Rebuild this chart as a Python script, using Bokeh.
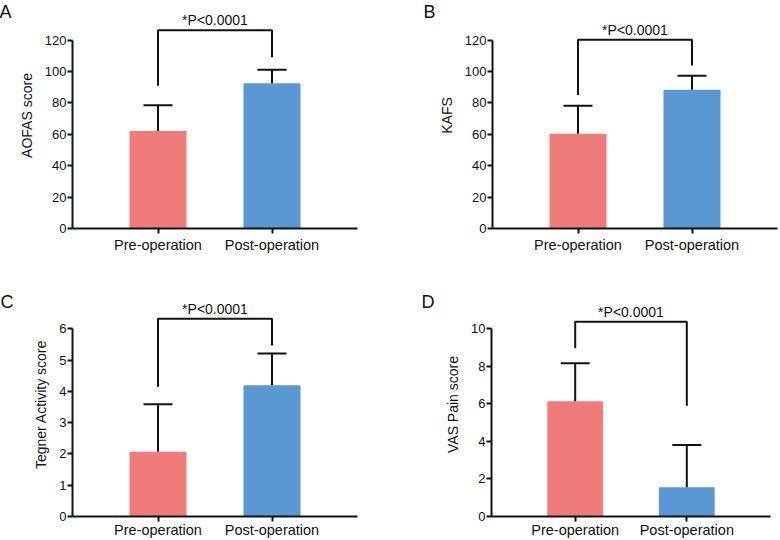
from bokeh.plotting import figure
from bokeh.layouts import column, row
from bokeh.models import ColumnDataSource, Whisker, TeeHead, Range1d
from bokeh.embed import file_html
from bokeh.resources import INLINE
from bokeh.core.properties import value

# ---------------- data ----------------
groups = ["Pre-operation", "Post-operation"]
p_text = "*P<0.0001"
panel_letters = ["A", "B", "C", "D"]
y_labels = ["AOFAS score", "KAFS", "Tegner Activity score", "VAS Pain score"]

y_ticks_A = [0, 20, 40, 60, 80, 100, 120]
y_ticks_B = [0, 20, 40, 60, 80, 100, 120]
y_ticks_C = [0, 1, 2, 3, 4, 5, 6]
y_ticks_D = [0, 2, 4, 6, 8, 10]

means_A = [62.0, 92.5]
sd_A = [16.5, 8.5]
means_B = [60.3, 88.3]
sd_B = [17.8, 9.0]
means_C = [2.07, 4.2]
sd_C = [1.52, 1.01]
means_D = [6.14, 1.56]
sd_D = [2.02, 2.25]

# significance bracket: [left leg bottom, top, right leg bottom]
bracket_A = [90.8, 126.2, 109.0]
bracket_B = [85.0, 120.2, 103.7]
bracket_C = [4.15, 6.32, 5.47]
bracket_D = [8.96, 10.38, 5.9]

# ---------------- style ----------------
FONT = "Liberation Sans"
BAR_COLORS = ["#EF7B7B", "#5B97D2"]
INK = "#111111"
AXIS_PX = 188.5  # pixel length of the drawn y-axis

layouts = [
    dict(w=390, h=270, l=72, r=33, t=2, b=42, lab_off=3, letter_off=-73),
    dict(w=390, h=270, l=102, r=3, t=2, b=42, lab_off=3, letter_off=-69),
    dict(w=390, h=270, l=72, r=33, t=22, b=23, lab_off=0, letter_off=-72),
    dict(w=390, h=270, l=101, r=10, t=22, b=23, lab_off=0, letter_off=-70),
]

panels = [
    (y_ticks_A, means_A, sd_A, bracket_A),
    (y_ticks_B, means_B, sd_B, bracket_B),
    (y_ticks_C, means_C, sd_C, bracket_C),
    (y_ticks_D, means_D, sd_D, bracket_D),
]


def make_panel(i):
    ticks, means, sds, bracket = panels[i]
    lay = layouts[i]
    frame_h = lay["h"] - lay["t"] - lay["b"]
    y_max = ticks[-1]
    y_end = y_max * frame_h / AXIS_PX
    xs = [k + 1 for k in range(len(groups))]

    p = figure(width=lay["w"], height=lay["h"], output_backend="svg",
               toolbar_location=None, x_range=Range1d(0.25, 2.75),
               y_range=Range1d(0, y_end),
               min_border_left=lay["l"], min_border_right=lay["r"],
               min_border_top=lay["t"], min_border_bottom=lay["b"])
    p.outline_line_color = None
    p.xgrid.visible = False
    p.ygrid.visible = False
    p.background_fill_color = "white"
    p.border_fill_color = "white"

    # panel letter as an (unclipped) title drawn into the corner
    p.title.text = panel_letters[i]
    p.title.align = "left"
    p.title.vertical_align = "bottom"
    p.title.offset = lay["letter_off"]
    p.title.standoff = -38
    p.title.text_font = FONT
    p.title.text_font_size = "18px"
    p.title.text_font_style = "normal"
    p.title.text_color = INK

    src = ColumnDataSource(dict(
        x=xs, mean=means, upper=[m + s for m, s in zip(means, sds)],
        color=BAR_COLORS[:len(groups)]))

    p.vbar(x="x", top="mean", width=0.5, bottom=0, source=src,
           fill_color="color", line_color=None)

    w = Whisker(source=src, base="x", lower="mean", upper="upper",
                dimension="height", line_color=INK, line_width=2,
                upper_head=TeeHead(size=29, line_color=INK, line_width=2),
                lower_head=None, level="glyph")
    p.add_layout(w)

    # significance bracket
    p.line(x=[xs[0], xs[0], xs[1], xs[1]],
           y=[bracket[0], bracket[1], bracket[1], bracket[2]],
           line_color=INK, line_width=2)
    p.text(x=[(xs[0] + xs[1]) / 2], y=[bracket[1]], text=[p_text],
           text_align="center", text_baseline="alphabetic", y_offset=-10,
           text_font=value(FONT), text_font_size="14px", text_color=INK)

    # axes
    for ax in (p.xaxis, p.yaxis):
        ax.axis_line_color = INK
        ax.axis_line_width = 2
        ax.major_tick_line_color = INK
        ax.major_tick_line_width = 2
        ax.major_tick_in = 0
        ax.major_tick_out = 5
        ax.minor_tick_line_color = None
        ax.major_label_text_font = FONT
        ax.major_label_text_color = INK

    p.xaxis.ticker = xs
    p.xaxis.major_label_overrides = {x: g for x, g in zip(xs, groups)}
    p.xaxis.major_label_text_font_size = "14.5px"
    p.xaxis.major_label_standoff = lay["lab_off"]

    p.yaxis.ticker = ticks
    p.yaxis.bounds = (0, y_max)
    p.yaxis.major_label_text_font_size = "13px"
    p.yaxis.major_label_standoff = 1
    p.yaxis.axis_label = y_labels[i]
    p.yaxis.axis_label_text_font = FONT
    p.yaxis.axis_label_text_font_size = "14px"
    p.yaxis.axis_label_text_font_style = "normal"
    p.yaxis.axis_label_text_color = INK
    p.yaxis.axis_label_standoff = 7
    return p


figs = [make_panel(i) for i in range(4)]
layout = column(row(figs[0], figs[1]), row(figs[2], figs[3]))

html = file_html(layout, INLINE)
with open("out.html", "w") as f:
    f.write(html)
